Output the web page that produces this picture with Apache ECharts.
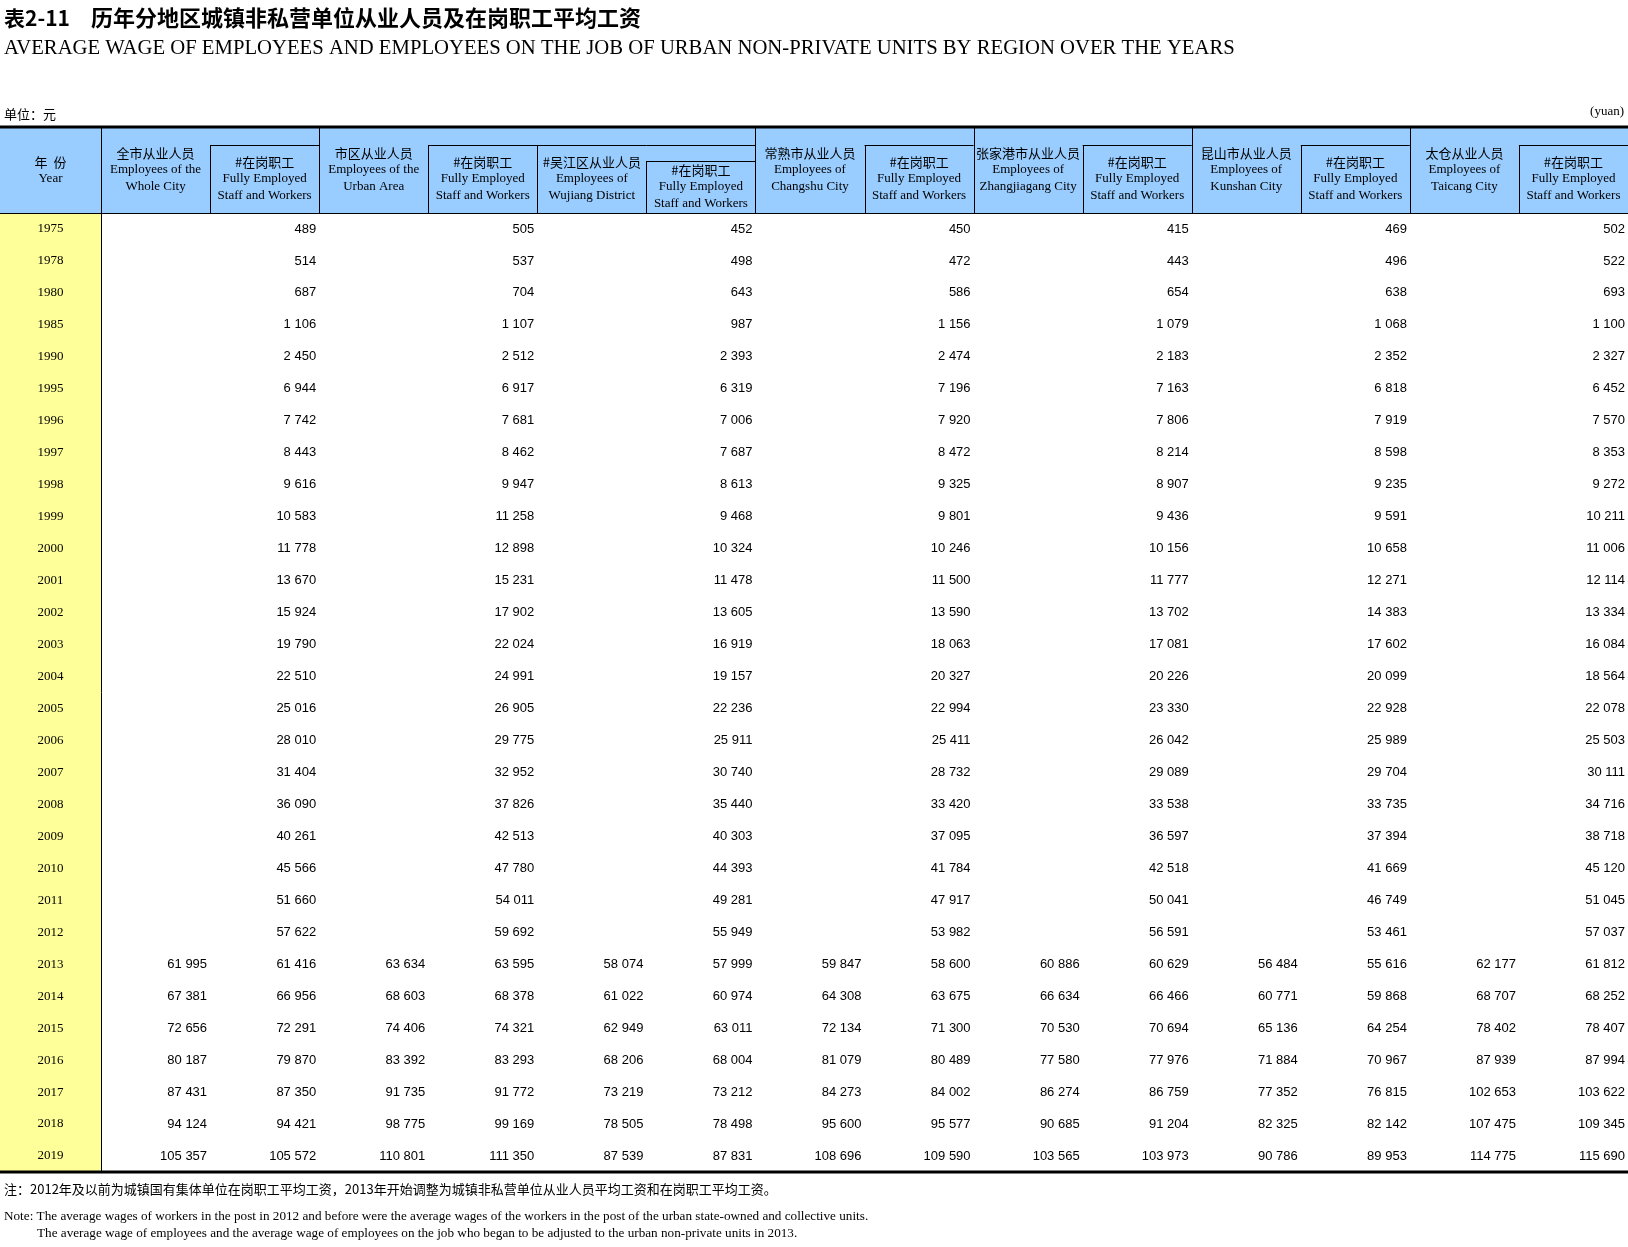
<!DOCTYPE html>
<html>
<head>
<meta charset="utf-8">
<title>表2-11 历年分地区城镇非私营单位从业人员及在岗职工平均工资</title>
<script src="https://cdn.jsdelivr.net/npm/echarts@6.0.0/dist/echarts.min.js"></script>
<style>
  html, body { margin: 0; padding: 0; background: #fff; }
  #main { width: 1628px; height: 1247px; }
</style>
</head>
<body>
<div id="main"></div>
<script>
// rows of the table
const years = ['1975', '1978', '1980', '1985', '1990', '1995', '1996', '1997', '1998', '1999',
  '2000', '2001', '2002', '2003', '2004', '2005', '2006', '2007', '2008', '2009',
  '2010', '2011', '2012', '2013', '2014', '2015', '2016', '2017', '2018', '2019'];

// employees (从业人员) only published from 2013 on: 23 empty cells before that
const blank = Array(23).fill(null);
const wholeEmp    = blank.concat([61995, 67381, 72656, 80187, 87431, 94124, 105357]);
const urbanEmp    = blank.concat([63634, 68603, 74406, 83392, 91735, 98775, 110801]);
const wujiangEmp  = blank.concat([58074, 61022, 62949, 68206, 73219, 78505, 87539]);
const changshuEmp = blank.concat([59847, 64308, 72134, 81079, 84273, 95600, 108696]);
const zjgEmp      = blank.concat([60886, 66634, 70530, 77580, 86274, 90685, 103565]);
const kunshanEmp  = blank.concat([56484, 60771, 65136, 71884, 77352, 82325, 90786]);
const taicangEmp  = blank.concat([62177, 68707, 78402, 87939, 102653, 107475, 114775]);

// staff and workers on the job (#在岗职工)
const wholeStaff = [489, 514, 687, 1106, 2450, 6944, 7742, 8443, 9616, 10583,
  11778, 13670, 15924, 19790, 22510, 25016, 28010, 31404, 36090, 40261,
  45566, 51660, 57622, 61416, 66956, 72291, 79870, 87350, 94421, 105572];
const urbanStaff = [505, 537, 704, 1107, 2512, 6917, 7681, 8462, 9947, 11258,
  12898, 15231, 17902, 22024, 24991, 26905, 29775, 32952, 37826, 42513,
  47780, 54011, 59692, 63595, 68378, 74321, 83293, 91772, 99169, 111350];
const wujiangStaff = [452, 498, 643, 987, 2393, 6319, 7006, 7687, 8613, 9468,
  10324, 11478, 13605, 16919, 19157, 22236, 25911, 30740, 35440, 40303,
  44393, 49281, 55949, 57999, 60974, 63011, 68004, 73212, 78498, 87831];
const changshuStaff = [450, 472, 586, 1156, 2474, 7196, 7920, 8472, 9325, 9801,
  10246, 11500, 13590, 18063, 20327, 22994, 25411, 28732, 33420, 37095,
  41784, 47917, 53982, 58600, 63675, 71300, 80489, 84002, 95577, 109590];
const zjgStaff = [415, 443, 654, 1079, 2183, 7163, 7806, 8214, 8907, 9436,
  10156, 11777, 13702, 17081, 20226, 23330, 26042, 29089, 33538, 36597,
  42518, 50041, 56591, 60629, 66466, 70694, 77976, 86759, 91204, 103973];
const kunshanStaff = [469, 496, 638, 1068, 2352, 6818, 7919, 8598, 9235, 9591,
  10658, 12271, 14383, 17602, 20099, 22928, 25989, 29704, 33735, 37394,
  41669, 46749, 53461, 55616, 59868, 64254, 70967, 76815, 82142, 89953];
const taicangStaff = [502, 522, 693, 1100, 2327, 6452, 7570, 8353, 9272, 10211,
  11006, 12114, 13334, 16084, 18564, 22078, 25503, 30111, 34716, 38718,
  45120, 51045, 57037, 61812, 68252, 78407, 87994, 103622, 109345, 115690];

// column headers
const colKeys = ['wholeEmp', 'wholeStaff', 'urbanEmp', 'urbanStaff', 'wujiangEmp', 'wujiangStaff',
  'changshuEmp', 'changshuStaff', 'zjgEmp', 'zjgStaff', 'kunshanEmp', 'kunshanStaff', 'taicangEmp', 'taicangStaff'];
const staffHead = ['#在岗职工', 'Fully Employed', 'Staff and Workers'];
const headers = [
  ['全市从业人员', 'Employees of the', 'Whole City'], staffHead,
  ['市区从业人员', 'Employees of the', 'Urban Area'], staffHead,
  ['#吴江区从业人员', 'Employees of', 'Wujiang District'], staffHead,
  ['常熟市从业人员', 'Employees of', 'Changshu City'], staffHead,
  ['张家港市从业人员', 'Employees of', 'Zhangjiagang City'], staffHead,
  ['昆山市从业人员', 'Employees of', 'Kunshan City'], staffHead,
  ['太仓从业人员', 'Employees of', 'Taicang City'], staffHead
];

const columns = [wholeEmp, wholeStaff, urbanEmp, urbanStaff, wujiangEmp, wujiangStaff,
  changshuEmp, changshuStaff, zjgEmp, zjgStaff, kunshanEmp, kunshanStaff, taicangEmp, taicangStaff];

// layout
const W = 1628;
const tableLeft = 101;
const headTop = 127;
const headBottom = 213;
const tableBottom = 1172;
const colW = (W - tableLeft) / colKeys.length;
const levelY = [headTop, 145, 161];
const cellLevel = [0, 1, 0, 1, 1, 2, 0, 1, 0, 1, 0, 1, 0, 1];
const groupStart = [0, 2, 6, 8, 10, 12];

const ZH = '"Noto Sans CJK SC", sans-serif';
const SERIF = '"Liberation Serif", "Times New Roman", serif';
const SANS = '"Liberation Sans", Arial, sans-serif';

function fmt(v) {
  return String(v).replace(/\B(?=(\d{3})+(?!\d))/g, ' ');
}

function text(x, y, str, font, align) {
  return {
    type: 'text', x: x, y: y, silent: true,
    style: { text: str, font: font, fill: '#000', align: align || 'center', verticalAlign: 'middle' }
  };
}
function line(x1, y1, x2, y2, w) {
  return {
    type: 'line', silent: true,
    shape: { x1: x1, y1: y1, x2: x2, y2: y2 },
    style: { stroke: '#000', lineWidth: w || 1 }
  };
}

const graphics = [];
// backgrounds
graphics.push({ type: 'rect', z: -1, silent: true, shape: { x: 0, y: headTop, width: W, height: headBottom - headTop }, style: { fill: '#99ccff' } });
graphics.push({ type: 'rect', z: -1, silent: true, shape: { x: 0, y: headBottom, width: tableLeft, height: tableBottom - headBottom }, style: { fill: '#ffff99' } });

// titles
graphics.push(text(4, 18, '表2-11', 'bold 21px ' + ZH, 'left'));
graphics.push(text(91, 18, '历年分地区城镇非私营单位从业人员及在岗职工平均工资', 'bold 22px ' + ZH, 'left'));
graphics.push(text(4, 49, 'AVERAGE WAGE OF EMPLOYEES AND EMPLOYEES ON THE JOB OF URBAN NON-PRIVATE UNITS BY REGION OVER THE YEARS', '20.7px ' + SERIF, 'left'));
graphics.push(text(4, 114, '单位：元', '13px ' + ZH, 'left'));
graphics.push(text(W - 4, 112, '(yuan)', '13px ' + SERIF, 'right'));

// year column header
graphics.push(text(tableLeft / 2, 162, '年  份', '13px ' + ZH));
graphics.push(text(tableLeft / 2, 179, 'Year', '13px ' + SERIF));
graphics.push(line(tableLeft + 0.5, headTop, tableLeft + 0.5, headBottom));

// column header cells
headers.forEach(function (h, c) {
  const x0 = tableLeft + c * colW;
  const top = levelY[cellLevel[c]];
  const cx = x0 + colW / 2;
  const cy = (top + headBottom) / 2;
  graphics.push(text(cx, cy - 16.5, h[0], '13px ' + ZH));
  graphics.push(text(cx, cy, h[1], '13px ' + SERIF));
  graphics.push(text(cx, cy + 16.5, h[2], '13px ' + SERIF));
  const vTop = groupStart.indexOf(c) >= 0 ? headTop : top;
  if (c > 0) graphics.push(line(Math.round(x0) + 0.5, vTop, Math.round(x0) + 0.5, headBottom));
  for (let l = 1; l <= cellLevel[c]; l++) {
    graphics.push(line(x0, levelY[l] + 0.5, x0 + colW, levelY[l] + 0.5));
  }
});

// rules
graphics.push(line(0, headTop, W, headTop, 3));
graphics.push(line(0, headBottom + 0.5, W, headBottom + 0.5));
graphics.push(line(0, tableBottom, W, tableBottom, 3));

// notes
graphics.push(text(4, 1189, '注：2012年及以前为城镇国有集体单位在岗职工平均工资，2013年开始调整为城镇非私营单位从业人员平均工资和在岗职工平均工资。', '13px ' + ZH, 'left'));
graphics.push(text(4, 1217, 'Note: The average wages of workers in the post in 2012 and before were the average wages of the workers in the post of the urban state-owned and collective units.', '13.2px ' + SERIF, 'left'));
graphics.push(text(37, 1234, 'The average wage of employees and the average wage of employees on the job who began to be adjusted to the urban non-private units in 2013.', '13.2px ' + SERIF, 'left'));

// cells
const cells = [];
columns.forEach(function (col, c) {
  col.forEach(function (v, r) {
    if (v != null) cells.push([c, r, v]);
  });
});

const chart = echarts.init(document.getElementById('main'));
chart.setOption({
  backgroundColor: '#fff',
  animation: false,
  grid: { left: tableLeft, right: 0, top: headBottom, bottom: 1247 - tableBottom },
  xAxis: {
    type: 'category',
    data: colKeys,
    axisLine: { show: false },
    axisTick: { show: false },
    axisLabel: { show: false },
    splitLine: { show: false }
  },
  yAxis: {
    type: 'category',
    data: years,
    inverse: true,
    axisLine: { show: true, lineStyle: { color: '#000', width: 1 } },
    axisTick: { show: false },
    axisLabel: { align: 'center', margin: tableLeft / 2, color: '#000', fontFamily: SERIF, fontSize: 13 },
    splitLine: { show: false }
  },
  graphic: graphics,
  series: [{
    type: 'custom',
    data: cells,
    encode: { x: 0, y: 1 },
    renderItem: function (params, api) {
      const p = api.coord([api.value(0), api.value(1)]);
      const size = api.size([1, 1]);
      return {
        type: 'text',
        x: p[0] + size[0] / 2 - 3,
        y: p[1],
        style: {
          text: fmt(api.value(2)),
          font: '13px ' + SANS,
          fill: '#000',
          align: 'right',
          verticalAlign: 'middle'
        }
      };
    }
  }]
});
</script>
</body>
</html>
